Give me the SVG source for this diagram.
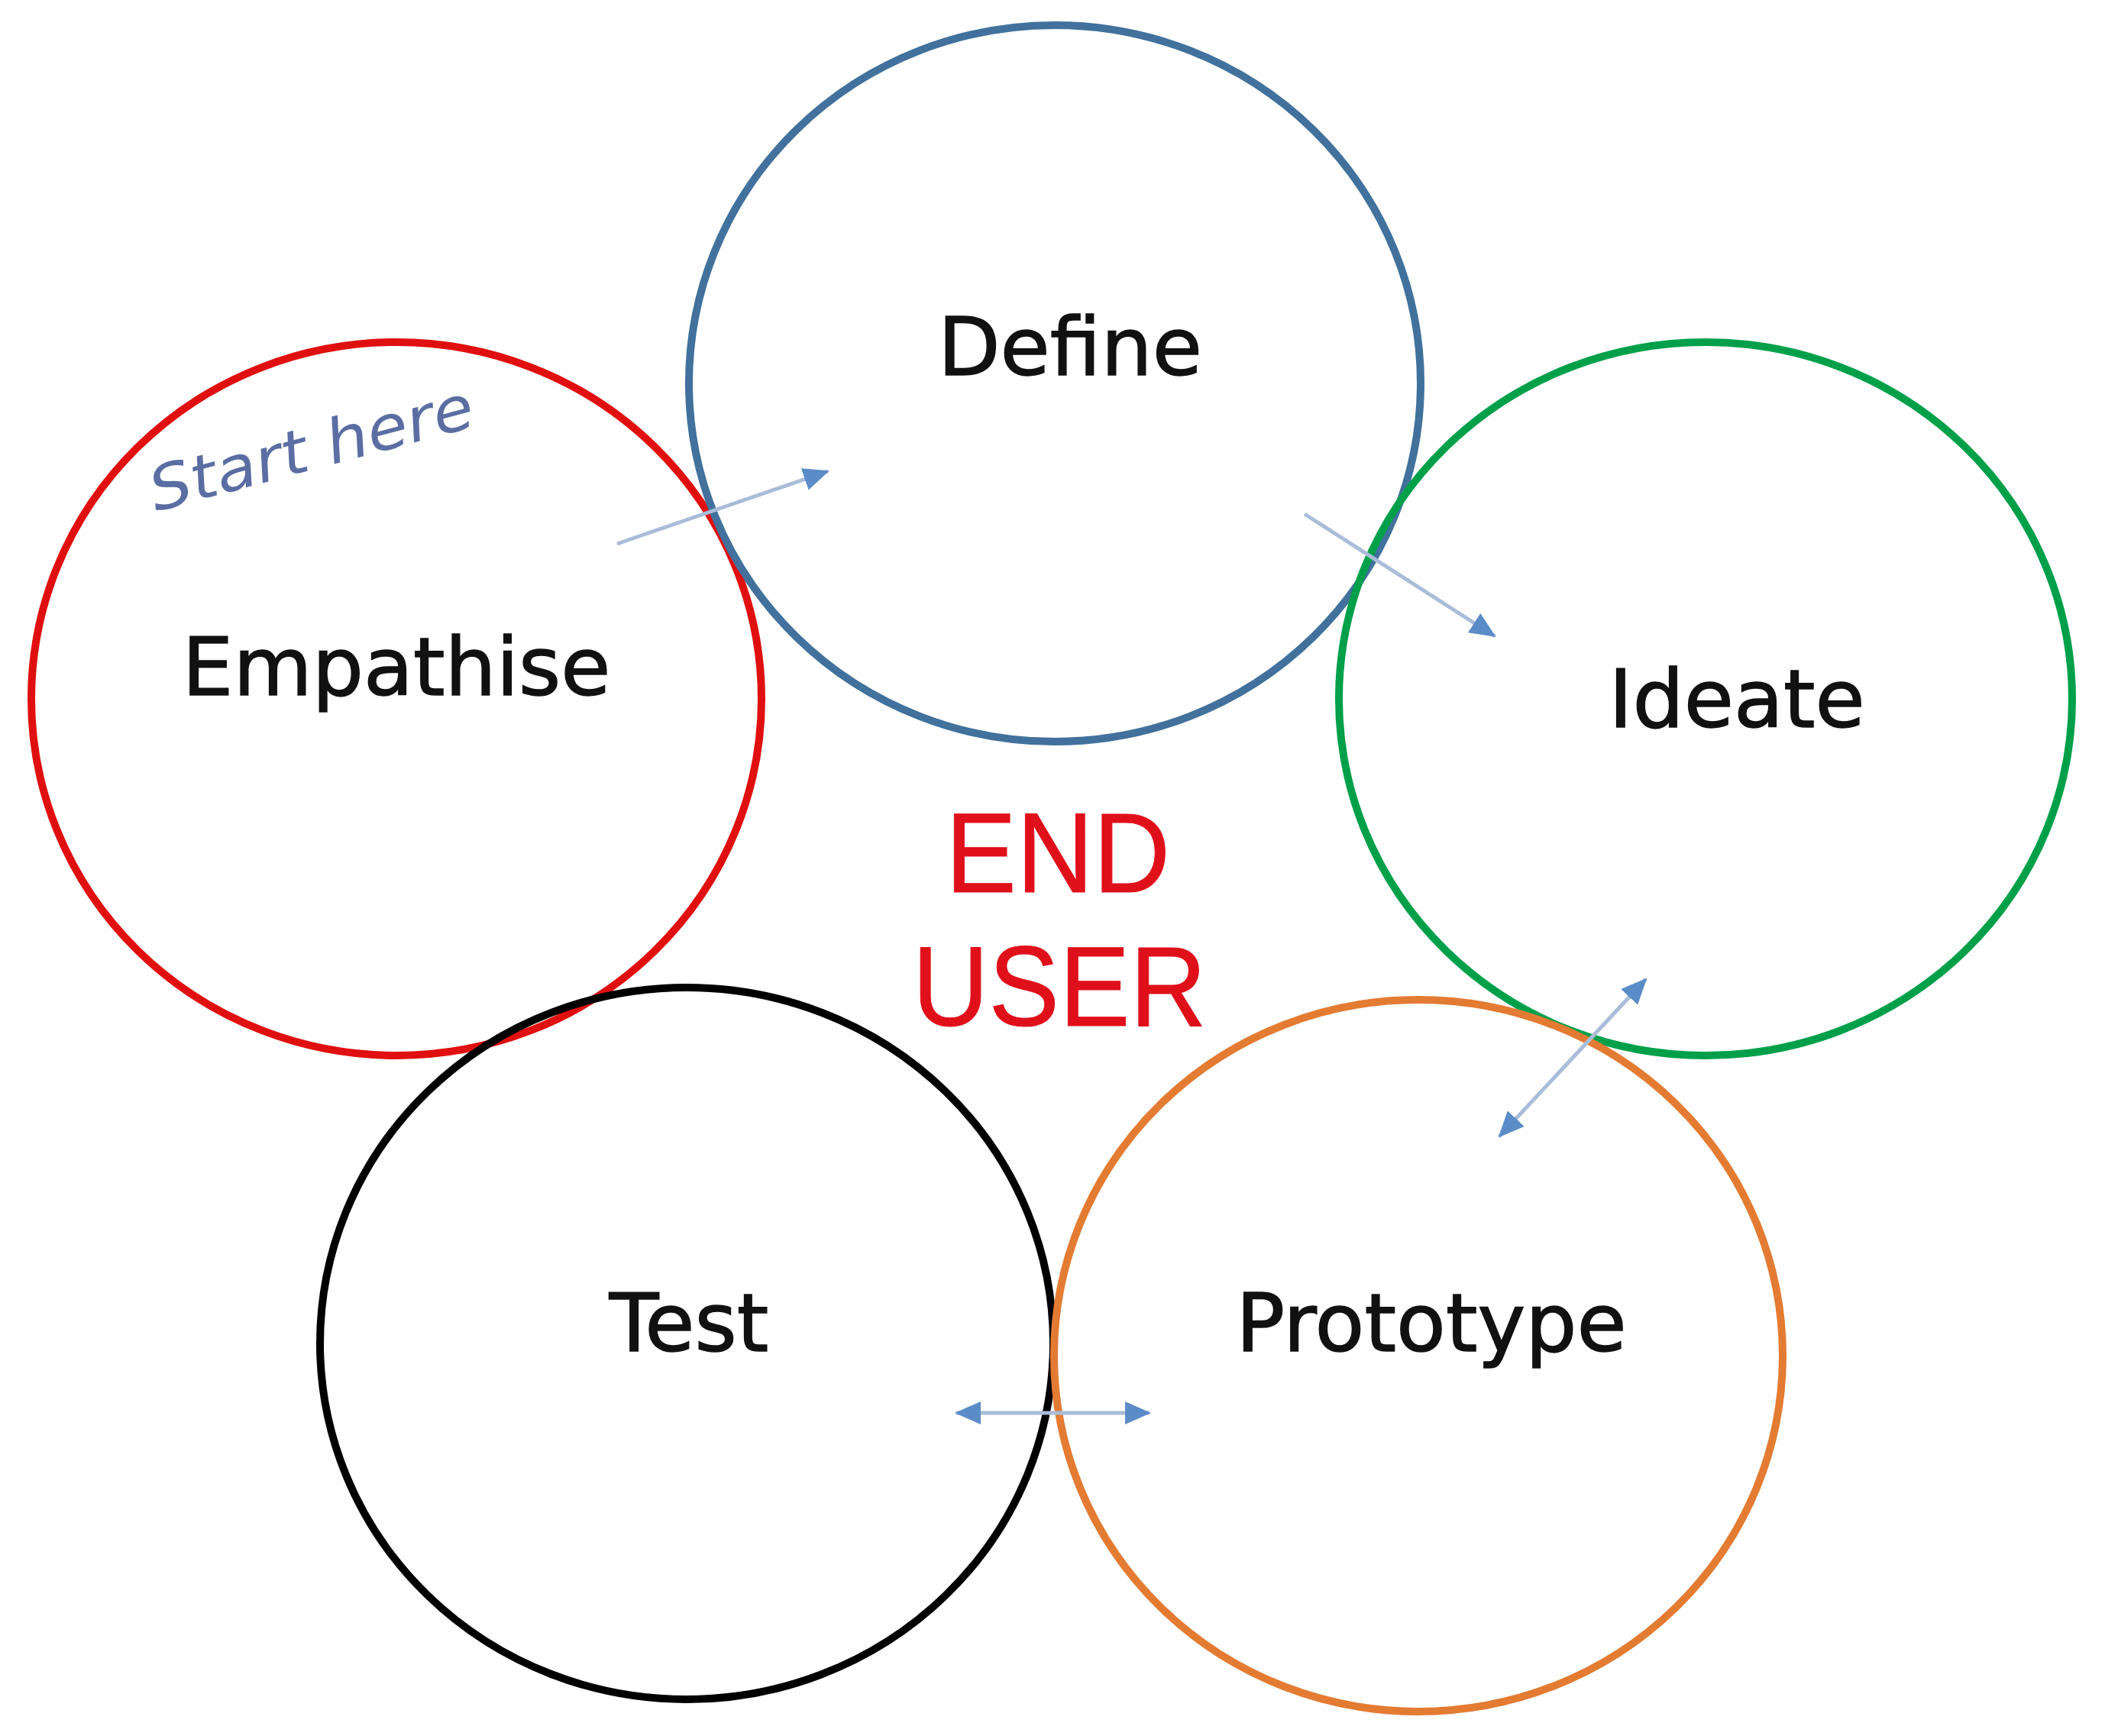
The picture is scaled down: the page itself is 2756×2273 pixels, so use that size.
<svg xmlns="http://www.w3.org/2000/svg" width="2756" height="2273" viewBox="0 0 2756 2273">
<style>
.ring{fill:none;stroke-width:10}
.lbl{font-family:"DejaVu Sans","Liberation Sans",sans-serif;font-size:106px;fill:#111;stroke:#111;stroke-width:1.5;text-anchor:middle}
.big{font-family:"Liberation Sans",Arial,sans-serif;font-size:148px;fill:#E0101A;stroke:#E0101A;stroke-width:1;text-anchor:middle}
.hand{font-family:"DejaVu Sans","Liberation Sans",sans-serif;font-style:italic;font-size:80px;fill:#5B6EA3}
.conn{fill:none;stroke:#A9BCD9;stroke-width:5}
</style>
<defs>
<marker id="ah" viewBox="0 0 34 30" refX="32" refY="15" markerWidth="34" markerHeight="30" markerUnits="userSpaceOnUse" orient="auto-start-reverse">
<path d="M0,0 L34,15 L0,30 Z" fill="#5B8CC8"/>
</marker>
</defs>
<rect width="2756" height="2273" fill="#fff"/>
<g id="empathise">
<ellipse class="ring" cx="519" cy="915" rx="478" ry="467" stroke="#E01010"/>
<text class="lbl" x="519" y="910">Empathise</text>
<text class="hand" x="204" y="670" transform="rotate(-15 204 670)" textLength="436" lengthAdjust="spacingAndGlyphs">Start here</text>
</g>
<g id="define">
<ellipse class="ring" cx="1381" cy="502" rx="479" ry="469" stroke="#41719C"/>
<text class="lbl" x="1401" y="491">Define</text>
</g>
<g id="ideate">
<ellipse class="ring" cx="2233" cy="915" rx="480" ry="467" stroke="#00A04A"/>
<text class="lbl" x="2274" y="952">Ideate</text>
</g>
<g id="test">
<ellipse class="ring" cx="899" cy="1759" rx="480" ry="466" stroke="#000" stroke-width="11"/>
<text class="lbl" x="902" y="1769">Test</text>
</g>
<g id="prototype">
<ellipse class="ring" cx="1857" cy="1775" rx="477" ry="466" stroke="#E37B33"/>
<text class="lbl" x="1874" y="1769">Prototype</text>
</g>
<g id="end-user">
<text class="big" x="1385" y="1168" textLength="294" lengthAdjust="spacingAndGlyphs">END</text>
<text class="big" x="1387" y="1343" textLength="385" lengthAdjust="spacingAndGlyphs">USER</text>
</g>
<g id="connectors">
<line class="conn" x1="808" y1="712" x2="1084" y2="617" marker-end="url(#ah)"/>
<line class="conn" x1="1708" y1="673" x2="1957" y2="833" marker-end="url(#ah)"/>
<line class="conn" x1="1963" y1="1488" x2="2155" y2="1282" marker-start="url(#ah)" marker-end="url(#ah)"/>
<line class="conn" x1="1252" y1="1850" x2="1505" y2="1850" marker-start="url(#ah)" marker-end="url(#ah)"/>
</g>
</svg>
